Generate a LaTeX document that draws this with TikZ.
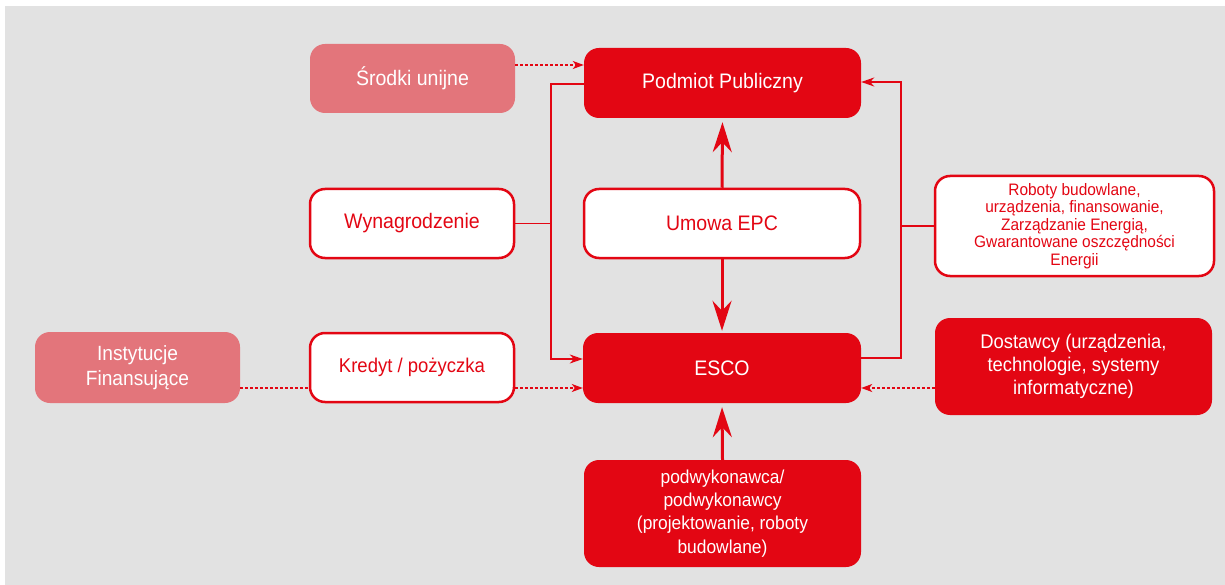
\documentclass[tikz,border=0pt]{standalone}
\usepackage{fontspec}
\setmainfont[FakeStretch=0.93]{Liberation Sans}
\usetikzlibrary{arrows.meta}

\definecolor{epcred}{HTML}{E30613}
\definecolor{epcpink}{HTML}{E3757B}
\definecolor{epcbg}{HTML}{E2E2E2}

\tikzset{
  box/.style={rounded corners=15pt, inner sep=0pt, align=center,
    font=\fontsize{21}{25}\selectfont},
  redbox/.style={box, fill=epcred, text=white},
  pinkbox/.style={box, fill=epcpink, text=white},
  whitebox/.style={box, fill=white, draw=epcred, line width=2.5pt, text=epcred},
  link/.style={draw=epcred, line width=1.5pt},
  linkarrow/.style={link, -{Stealth[length=13pt, width=9pt, inset=4pt]}},
  dotlink/.style={draw=epcred, line width=1.5pt, dash pattern=on 3pt off 2pt},
  dotarrow/.style={dotlink, -{Stealth[length=11pt, width=8pt, inset=3pt]}},
  bigarrow/.style={draw=epcred, line width=3pt,
    -{Stealth[length=30pt, width=19pt, inset=10pt]}},
}

\begin{document}
\begin{tikzpicture}[x=1pt, y=-1pt]
  \useasboundingbox (0,0) rectangle (1225,585);
  \fill[epcbg] (5,6) rectangle (1225,585);

  % boxes
  \node[pinkbox, minimum width=205pt, minimum height=69pt] (srodki) at (412.5,78.5) {Środki unijne};
  \node[redbox, minimum width=277pt, minimum height=70pt] (podmiot) at (722.5,83) {Podmiot Publiczny};
  \node[whitebox, minimum width=204pt, minimum height=69pt] (wyn) at (412,223.5) {Wynagrodzenie};
  \node[whitebox, minimum width=276pt, minimum height=69pt] (umowa) at (722,223.5) {Umowa EPC};
  \node[whitebox, minimum width=279pt, minimum height=100pt,
        font=\fontsize{16.6}{17.5}\selectfont] (roboty) at (1074.5,226)
        {Roboty budowlane,\\urządzenia, finansowanie,\\Zarządzanie Energią,\\Gwarantowane oszczędności\\Energii};
  \node[pinkbox, minimum width=205pt, minimum height=71pt,
        font=\fontsize{20.6}{25}\selectfont] (inst) at (137.5,367.5) {Instytucje\\Finansujące};
  \node[whitebox, minimum width=204pt, minimum height=69pt,
        font=\fontsize{19.9}{24}\selectfont] (kredyt) at (412,367.5) {Kredyt / pożyczka};
  \node[redbox, minimum width=278pt, minimum height=70pt] (esco) at (722,368) {ESCO};
  \node[redbox, minimum width=277pt, minimum height=97pt,
        font=\fontsize{19.8}{23}\selectfont] (dost) at (1073.5,366.5)
        {Dostawcy (urządzenia,\\technologie, systemy\\informatyczne)};
  \node[redbox, minimum width=277pt, minimum height=107pt,
        font=\fontsize{18.7}{23.3}\selectfont] (podw) at (722.5,513.5)
        {podwykonawca/\\podwykonawcy\\(projektowanie, roboty\\budowlane)};

  % bus lines
  \coordinate (ltop) at (551,84);
  \coordinate (lbot) at (551,359);
  \coordinate (rtop) at (901,82);
  \coordinate (rbot) at (901,358);

  % dotted flows
  \draw[dotarrow] (srodki.east |- 0,65) -- (podmiot.west |- 0,65);
  \draw[dotlink] (inst.east |- 0,388) -- (kredyt.west |- 0,388);
  \draw[dotarrow] (kredyt.east |- 0,388) -- (esco.west |- 0,388);
  \draw[dotarrow] (dost.west |- 0,388) -- (esco.east |- 0,388);

  % left loop: public entity pays ESCO
  \draw[linkarrow] (podmiot.west |- ltop) -- (ltop) -- (lbot) -- (esco.west |- lbot);
  \draw[link] (wyn.east) -- (ltop |- wyn.east);

  % right loop: ESCO delivers to public entity
  \draw[linkarrow] (esco.east |- rbot) -- (rbot) -- (rtop) -- (podmiot.east |- rtop);
  \draw[link] (roboty.west) -- (rtop |- roboty.west);

  % contract arrows
  \draw[bigarrow, shorten >=4pt] (umowa.north) -- (podmiot.south);
  \draw[bigarrow, shorten >=2pt] (umowa.south) -- (esco.north);
  \draw[bigarrow, shorten >=4pt] (podw.north) -- (esco.south);
\end{tikzpicture}
\end{document}
